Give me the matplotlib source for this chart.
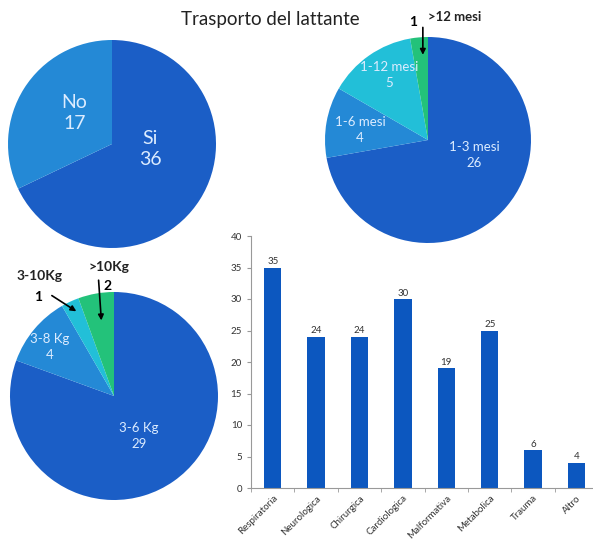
import numpy as np
import matplotlib
matplotlib.use("Agg")
import matplotlib.pyplot as plt

plt.rcParams['font.family'] = ['Lato', 'DejaVu Sans']

# dati
trasporto_labels = ["Si", "No"]
trasporto_values = [36, 17]

eta_labels = ["1-3 mesi", "1-6 mesi", "1-12 mesi", ">12 mesi"]
eta_values = [26, 4, 5, 1]

peso_labels = ["3-6 Kg", "3-8 Kg", "3-10Kg", ">10Kg"]
peso_values = [29, 4, 1, 2]

patologie = ["Respiratoria", "Neurologica", "Chirurgica", "Cardiologica",
             "Malformativa", "Metabolica", "Trauma", "Altro"]
casi = [35, 24, 24, 30, 19, 25, 6, 4]

DARK = "#1b5ec6"
MED = "#2489d6"
CYAN = "#22bfd8"
GREEN = "#23c27a"
BAR = "#0c57bf"
TXT = "#dcecff"

W, H = 593, 547
fig = plt.figure(figsize=(W / 100, H / 100), dpi=100)
fig.patch.set_facecolor("white")

# grafico a barre (disegnato per primo, le torte stanno sopra)
axb = fig.add_axes([251 / W, (H - 488) / H, 342 / W, 252 / H])
axb.patch.set_visible(False)
x = np.arange(len(patologie))
bars = axb.bar(x, casi, width=0.4, color=BAR)
axb.bar_label(bars, fontsize=7, padding=1, color="#333333")
axb.set_ylim(0, 40)
axb.set_xlim(-0.5, 7.38)
axb.set_yticks(np.arange(0, 41, 5))
axb.set_xticks(x)
axb.set_xticklabels(patologie, rotation=45, ha="right", rotation_mode="anchor",
                    fontsize=7, color="#333333")
axb.set_xticks(np.arange(-0.5, 7.5, 1), minor=True)
axb.tick_params(axis="x", which="major", length=0, pad=4)
axb.tick_params(axis="x", which="minor", length=3, color="#999999")
axb.tick_params(axis="y", labelsize=7, labelcolor="#333333", length=3, color="#999999")
for s in ["top", "right"]:
    axb.spines[s].set_visible(False)
for s in ["left", "bottom"]:
    axb.spines[s].set_color("#999999")


def pie_axes(cx, cy, r):
    ax = fig.add_axes([(cx - r) / W, (H - cy - r) / H, 2 * r / W, 2 * r / H])
    return ax


def fix_limits(ax):
    ax.set_xlim(-1, 1)
    ax.set_ylim(-1, 1)
    ax.axis("off")


# torta 1: trasporto
ax1 = pie_axes(112, 144, 104)
ax1.pie(trasporto_values, colors=[DARK, MED], startangle=90, counterclock=False,
        radius=1, wedgeprops=dict(linewidth=0))
fix_limits(ax1)
ax1.text(0.37, -0.05, f"{trasporto_labels[0]}\n{trasporto_values[0]}", color=TXT,
         fontsize=14, ha="center", va="center", linespacing=1.3)
ax1.text(-0.36, 0.3, f"{trasporto_labels[1]}\n{trasporto_values[1]}", color=TXT,
         fontsize=14, ha="center", va="center", linespacing=1.3)

fig.text(270 / W, 1 - 20 / H, "Trasporto del lattante", fontsize=13.5,
         ha="center", va="center", color="#222222")

# torta 2: eta
ax2 = pie_axes(428, 140, 103)
ax2.pie(eta_values, colors=[DARK, MED, CYAN, GREEN], startangle=90, counterclock=False,
        radius=1, wedgeprops=dict(linewidth=0))
fix_limits(ax2)
ax2.text(0.45, -0.15, f"{eta_labels[0]}\n{eta_values[0]}", color=TXT,
         fontsize=9.5, ha="center", va="center", linespacing=1.4)
ax2.text(-0.66, 0.1, f"{eta_labels[1]}\n{eta_values[1]}", color=TXT,
         fontsize=9.5, ha="center", va="center", linespacing=1.4)
ax2.text(-0.38, 0.63, f"{eta_labels[2]}\n{eta_values[2]}", color=TXT,
         fontsize=9.5, ha="center", va="center", linespacing=1.4)
ax2.annotate("", xy=(-0.05, 0.8), xytext=(-0.05, 1.12), annotation_clip=False,
             arrowprops=dict(arrowstyle="-|>", color="black", lw=1.2, mutation_scale=8))
ax2.text(-0.14, 1.15, str(eta_values[3]), fontsize=10, fontweight="bold",
         ha="center", va="center")
ax2.text(0.26, 1.19, eta_labels[3], fontsize=9.5, fontweight="bold",
         ha="center", va="center", color="#222222")

# torta 3: peso
ax3 = pie_axes(114, 396, 104)
ax3.pie(peso_values, colors=[DARK, MED, CYAN, GREEN], startangle=90, counterclock=False,
        radius=1, wedgeprops=dict(linewidth=0))
fix_limits(ax3)
ax3.text(0.24, -0.38, f"{peso_labels[0]}\n{peso_values[0]}", color=TXT,
         fontsize=9.5, ha="center", va="center", linespacing=1.4)
ax3.text(-0.62, 0.47, f"{peso_labels[1]}\n{peso_values[1]}", color=TXT,
         fontsize=9.5, ha="center", va="center", linespacing=1.4)
ax3.text(-0.72, 1.15, peso_labels[2], fontsize=10, fontweight="bold",
         ha="center", va="center", color="#222222")
ax3.text(-0.73, 0.95, str(peso_values[2]), fontsize=10, fontweight="bold",
         ha="center", va="center")
ax3.annotate("", xy=(-0.34, 0.8), xytext=(-0.62, 0.98), annotation_clip=False,
             arrowprops=dict(arrowstyle="-|>", color="black", lw=1.2, mutation_scale=8))
ax3.text(-0.05, 1.24, peso_labels[3], fontsize=10, fontweight="bold",
         ha="center", va="center", color="#222222")
ax3.text(-0.06, 1.06, str(peso_values[3]), fontsize=10, fontweight="bold",
         ha="center", va="center")
ax3.annotate("", xy=(-0.12, 0.7), xytext=(-0.15, 1.14), annotation_clip=False,
             arrowprops=dict(arrowstyle="-|>", color="black", lw=1.2, mutation_scale=8))

fig.savefig("out.png", dpi=100)
